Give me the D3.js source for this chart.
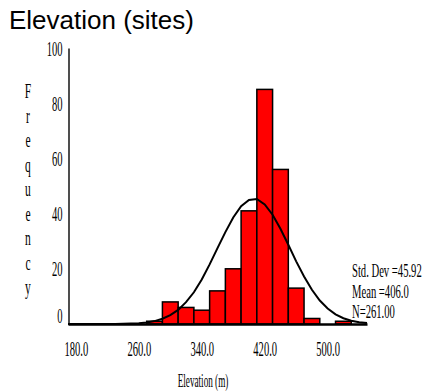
<!DOCTYPE html>
<html>
<head>
<meta charset="utf-8">
<script src="https://cdn.jsdelivr.net/npm/d3@7"></script>
<style>
  body { margin: 0; background: #fff; }
  svg { display: block; }
  .serif { font-family: "Liberation Serif", "DejaVu Serif", serif; fill: #000; }
</style>
</head>
<body>
<div id="chart"></div>
<script>
// histogram bins (bin centres, width 20 m) and their counts
var binCenters = [280, 300, 320, 340, 360, 380, 400, 420, 440, 460, 480, 500, 520];
var counts     = [1,   8,   6,   5,   12,  20,  41,  85,  56,  13,  2,   0,   1];

// fitted normal curve, every 10 m
var curveX = [170, 180, 190, 200, 210, 220, 230, 240, 250, 260, 270, 280, 290, 300, 310, 320, 330, 340, 350, 360,
              370, 380, 390, 400, 410, 420, 430, 440, 450, 460, 470, 480, 490, 500, 510, 520, 530, 540, 550];
var curveY = [0, 0, 0, 0, 0, 0, 0, 0.05, 0.14, 0.29, 0.57, 1.05, 1.9, 3.2, 5.1, 7.9, 11.5, 16.1, 21.6, 27.5,
              33.3, 38.6, 42.7, 44.9, 45.3, 43.3, 39.6, 34.5, 28.7, 22.7, 17.2, 12.4, 8.5, 5.6, 3.5, 2.1, 1.2, 0.64, 0.33];

var xTicks = [180, 260, 340, 420, 500];
var yTicks = [0, 20, 40, 60, 80, 100];
var statLines = ["Std. Dev =45.92", "Mean =406.0", "N=261.00"];
var yTitle = "Frequency";

var W = 424, H = 392;
var sx = 0.48; // horizontal squeeze for the narrow serif labels

var svg = d3.select("#chart").append("svg")
    .attr("width", W)
    .attr("height", H);

svg.append("rect").attr("width", W).attr("height", H).attr("fill", "#fff");

var xScale = d3.scaleLinear().domain([170, 550]).range([68, 367]),
    yScale = d3.scaleLinear().domain([0, 100]).range([324, 48]);

// title
svg.append("text")
    .attr("x", 9)
    .attr("y", 29)
    .style("font-family", "'Liberation Sans', Arial, sans-serif")
    .style("font-size", "26px")
    .text("Elevation (sites)");

// y axis
var yAxis = svg.append("g")
    .attr("class", "y axis")
    .attr("transform", "translate(68.5,0)")
    .call(d3.axisLeft(yScale).tickValues(yTicks).tickSize(0).tickPadding(6));

yAxis.attr("font-size", null).attr("font-family", null);
yAxis.select(".domain").attr("stroke", "#222").attr("stroke-width", 1.6);
yAxis.selectAll("text")
    .attr("class", "serif")
    .style("font-size", "22px")
    .attr("x", -6 / sx)
    .attr("dy", function(d) { return d == 0 ? "-0.05em" : "0.32em"; })
    .attr("transform", "scale(" + sx + ",1)");

// vertical stacked axis title
svg.append("g").selectAll("text")
    .data(yTitle.split(""))
    .enter().append("text")
    .attr("class", "serif")
    .style("font-size", "21px")
    .attr("text-anchor", "middle")
    .attr("transform", function(d, i) {
        return "translate(28," + (98 + i * 24.5) + ") scale(0.55,1)";
    })
    .text(function(d) { return d; });

// bars
var bars = binCenters.map(function(c, i) { return {c: c, n: counts[i]}; })
    .filter(function(d) { return d.n > 0; });

svg.selectAll(".bar")
    .data(bars)
    .enter().append("rect")
    .attr("class", "bar")
    .attr("x", function(d) { return xScale(d.c - 10); })
    .attr("y", function(d) { return yScale(d.n); })
    .attr("width", function(d) { return xScale(d.c + 10) - xScale(d.c - 10); })
    .attr("height", function(d) { return yScale(0) - yScale(d.n); })
    .attr("fill", "#ff0000")
    .attr("stroke", "#000")
    .attr("stroke-width", 1.5);

// normal curve
var line = d3.line()
    .x(function(d) { return xScale(d[0]); })
    .y(function(d) { return yScale(d[1]); });

svg.append("path")
    .datum(curveX.map(function(v, i) { return [v, curveY[i]]; }))
    .attr("d", line)
    .attr("fill", "none")
    .attr("stroke", "#000")
    .attr("stroke-width", 2);

// x axis
var xAxis = svg.append("g")
    .attr("class", "x axis")
    .attr("transform", "translate(0,324)")
    .call(d3.axisBottom(xScale).tickValues(xTicks).tickSize(0).tickPadding(0)
        .tickFormat(d3.format(".1f")));

xAxis.attr("font-size", null).attr("font-family", null);
xAxis.select(".domain").attr("stroke", "#000").attr("stroke-width", 2.5);
xAxis.selectAll("text")
    .attr("class", "serif")
    .style("font-size", "22px")
    .attr("y", 32)
    .attr("dy", null)
    .attr("transform", "scale(" + sx + ",1)");

svg.append("text")
    .attr("class", "serif")
    .style("font-size", "18px")
    .attr("text-anchor", "middle")
    .attr("transform", "translate(203,387) scale(0.51,1)")
    .text("Elevation (m)");

// summary statistics
svg.append("g").selectAll("text")
    .data(statLines)
    .enter().append("text")
    .attr("class", "serif")
    .style("font-size", "19px")
    .attr("transform", function(d, i) {
        return "translate(352," + (277 + i * 20.5) + ") scale(0.56,1)";
    })
    .text(function(d) { return d; });
</script>
</body>
</html>
